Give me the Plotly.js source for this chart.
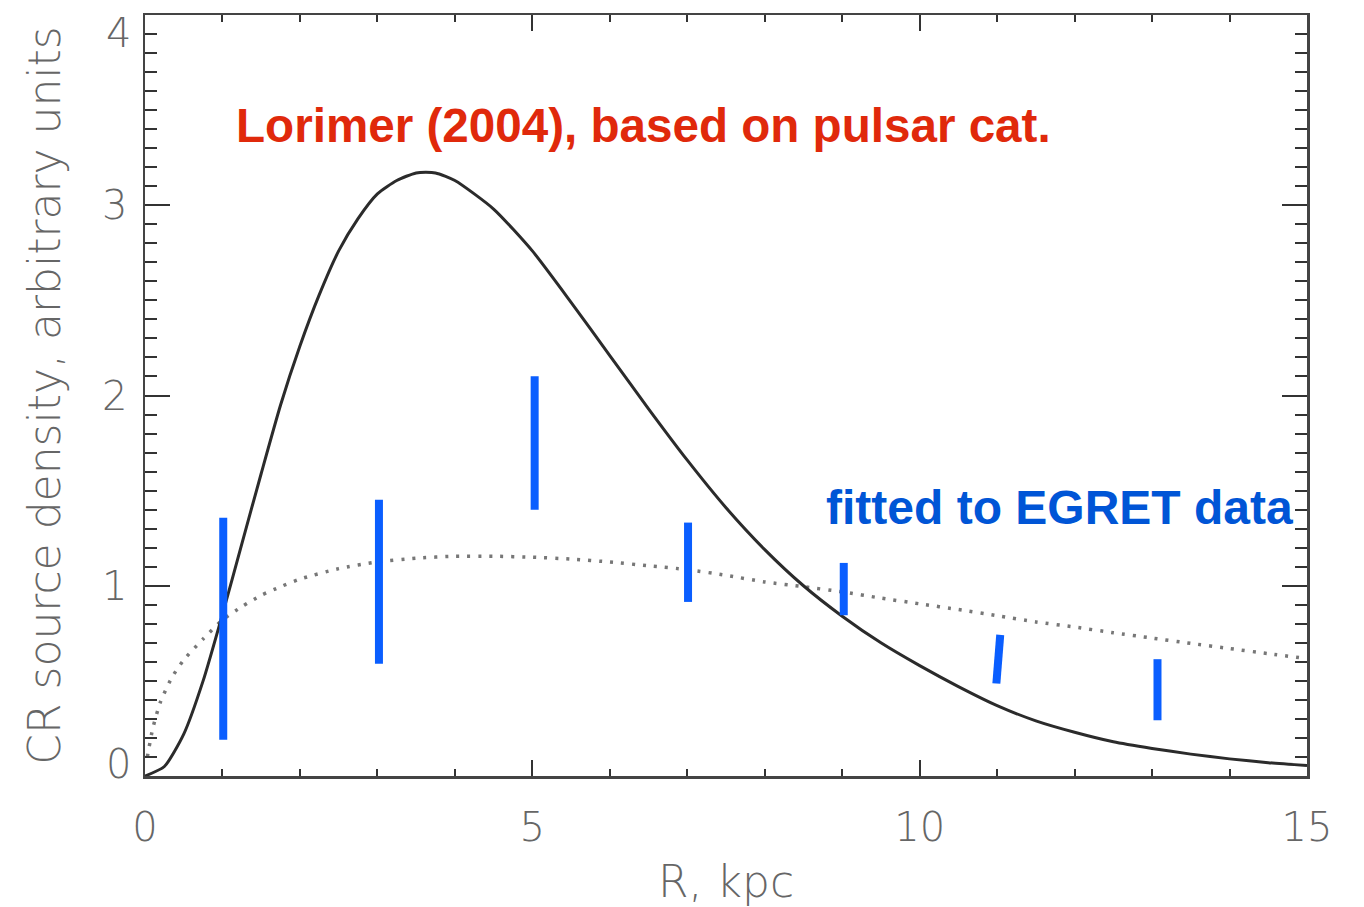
<!DOCTYPE html>
<html>
<head>
<meta charset="utf-8">
<script src="https://cdn.plot.ly/plotly-3.0.1.min.js"></script>
<style>html,body{margin:0;padding:0;background:#fff;}#chart{width:1364px;height:907px;}</style>
</head>
<body>
<div id="chart"></div>
<script>
// Lorimer (2004) pulsar-based source distribution (solid curve)
const lorR = [0,0.25,0.5,0.75,1,1.25,1.5,1.75,2,2.25,2.5,2.75,3,3.25,3.5,3.75,4,4.5,5,5.5,6,6.5,7,7.5,8,8.5,9,9.5,10,10.5,11,11.5,12,12.5,13,13.5,14,14.5,15];
const lorY = [0,0.05,0.22,0.50,0.85,1.22,1.59,1.95,2.26,2.53,2.76,2.93,3.06,3.13,3.17,3.17,3.13,2.98,2.76,2.49,2.21,1.93,1.66,1.41,1.19,1.00,0.84,0.70,0.58,0.47,0.37,0.29,0.23,0.18,0.145,0.115,0.09,0.07,0.055];

// Distribution fitted to EGRET data (dotted curve)
const fitR = [0.03,0.1,0.2,0.35,0.5,0.75,1,1.25,1.5,1.75,2,2.5,3,3.5,4,4.5,5,5.5,6,6.5,7,7.5,8,8.5,9,9.5,10,10.5,11,11.5,12,12.5,13,13.5,14,14.5,15];
const fitY = [0.10,0.25,0.39,0.52,0.61,0.72,0.82,0.89,0.95,0.995,1.035,1.09,1.125,1.145,1.155,1.155,1.15,1.14,1.125,1.105,1.085,1.055,1.02,0.995,0.968,0.935,0.905,0.875,0.843,0.81,0.783,0.753,0.725,0.697,0.67,0.643,0.617];

// EGRET-derived source density ranges (blue bars)
const barRLow  = [1.01,3.02,5.03,7.01,9.02,10.99,13.07];
const barRHigh = [1.01,3.02,5.03,7.01,9.02,11.04,13.07];
const barLow   = [0.19,0.59,1.40,0.915,0.845,0.486,0.293];
const barHigh  = [1.358,1.452,2.101,1.332,1.12,0.742,0.614];

// Axis tick labels
const xTicks = [0,5,10,15];
const xTickText = ['0','5','10','15'];
const yTicks = [1,2,3];
const yTickText = ['1','2','3'];
const yEdgeLabels = ['0','4'];
const yEdgeLabelPos = [0.063,3.905];

const barX = [], barY = [];
for (let i = 0; i < barLow.length; i++) {
  barX.push(barRLow[i], barRHigh[i], null);
  barY.push(barLow[i], barHigh[i], null);
}

const tickFont = {family: 'DejaVu Sans', size: 40, color: '#666', weight: 200};
const titleFont = {family: 'DejaVu Sans', size: 44, color: '#666', weight: 200};

const traces = [
  {x: fitR, y: fitY, type: 'scatter', mode: 'lines',
   line: {color: '#777', width: 3.5, dash: '3px,8px', shape: 'spline', smoothing: 0.6},
   hoverinfo: 'skip', showlegend: false},
  {x: lorR, y: lorY, type: 'scatter', mode: 'lines',
   line: {color: '#2b2b2b', width: 3, shape: 'spline', smoothing: 0.6},
   hoverinfo: 'skip', showlegend: false},
  {x: barX, y: barY, type: 'scatter', mode: 'lines', connectgaps: false,
   line: {color: '#0a5eff', width: 8},
   hoverinfo: 'skip', showlegend: false}
];

const annotations = [
  {text: 'Lorimer (2004), based on pulsar cat.', xref: 'x', yref: 'y', x: 1.15, y: 3.42,
   xanchor: 'left', yanchor: 'middle', showarrow: false,
   font: {family: 'Liberation Sans, Arial, sans-serif', size: 47.6, color: '#e0290b', weight: 700}},
  {text: 'fitted to EGRET data', xref: 'x', yref: 'y', x: 8.77, y: 1.41,
   xanchor: 'left', yanchor: 'middle', showarrow: false,
   font: {family: 'Liberation Sans, Arial, sans-serif', size: 48, color: '#0055d6', weight: 700}}
];
for (let i = 0; i < yEdgeLabels.length; i++) {
  annotations.push({text: yEdgeLabels[i], xref: 'paper', yref: 'y', x: -0.0105, y: yEdgeLabelPos[i],
    xanchor: 'right', yanchor: 'middle', showarrow: false, font: tickFont});
}

const layout = {
  width: 1364, height: 907,
  margin: {l: 145, r: 57, t: 15, b: 131},
  paper_bgcolor: '#fff', plot_bgcolor: '#fff',
  showlegend: false,
  xaxis: {
    range: [0, 15], showgrid: false, zeroline: false,
    showline: true, linecolor: '#444', linewidth: 2.5, mirror: 'ticks',
    tickmode: 'array', tickvals: xTicks, ticktext: xTickText,
    ticks: 'inside', ticklen: 16, tickwidth: 2, tickcolor: '#333',
    minor: {tickmode: 'linear', tick0: 0, dtick: 1, ticks: 'inside', ticklen: 7, tickwidth: 2, tickcolor: '#333', showgrid: false},
    tickfont: tickFont, ticklabelstandoff: 14,
    title: {text: 'R, kpc', font: titleFont, standoff: 22}
  },
  yaxis: {
    range: [0, 4], showgrid: false, zeroline: false,
    showline: true, linecolor: '#444', linewidth: 2.5, mirror: 'ticks',
    tickmode: 'array', tickvals: yTicks, ticktext: yTickText,
    ticks: 'inside', ticklen: 25, tickwidth: 2, tickcolor: '#333',
    minor: {tickmode: 'linear', tick0: 0, dtick: 0.1, ticks: 'inside', ticklen: 12, tickwidth: 2, tickcolor: '#333', showgrid: false},
    tickfont: tickFont, ticklabelstandoff: 7,
    title: {text: 'CR source density, arbitrary units', font: titleFont, standoff: 28}
  },
  annotations: annotations
};

Plotly.newPlot('chart', traces, layout, {displayModeBar: false, staticPlot: true});
</script>
</body>
</html>
